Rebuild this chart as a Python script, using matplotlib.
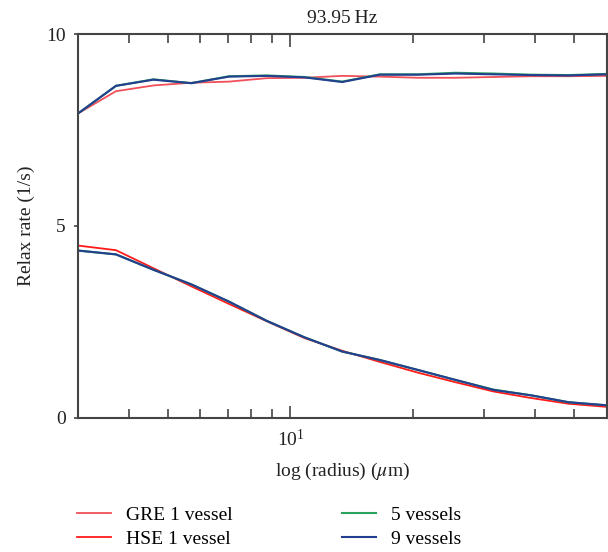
import numpy as np
import matplotlib
matplotlib.use("Agg")
import matplotlib.pyplot as plt
from matplotlib.ticker import LogLocator, NullFormatter, FixedLocator

plt.rcParams["font.family"] = ["Liberation Serif", "DejaVu Serif"]
plt.rcParams["mathtext.fontset"] = "stix"

# ── data (radius in um, relax rate in 1/s) ─────────────────────────────────
radius = [3.0, 3.72, 4.60, 5.70, 7.06, 8.74, 10.83, 13.41,
          16.6, 20.6, 25.5, 31.6, 39.1, 48.4, 60.0]

gre_1 = [7.93, 8.51, 8.66, 8.73, 8.76, 8.85, 8.86, 8.91,
         8.89, 8.86, 8.86, 8.88, 8.90, 8.90, 8.91]
hse_1 = [4.49, 4.37, 3.90, 3.43, 2.97, 2.52, 2.08, 1.75,
         1.46, 1.18, 0.93, 0.69, 0.52, 0.37, 0.29]

gre_5 = [7.93, 8.65, 8.82, 8.72, 8.90, 8.92, 8.88, 8.76,
         8.95, 8.95, 8.99, 8.97, 8.94, 8.93, 8.96]
hse_5 = [4.36, 4.26, 3.86, 3.48, 3.03, 2.53, 2.10, 1.73,
         1.51, 1.25, 0.99, 0.74, 0.59, 0.41, 0.33]

gre_9 = [7.93, 8.65, 8.81, 8.72, 8.89, 8.91, 8.87, 8.75,
         8.94, 8.94, 8.97, 8.95, 8.93, 8.92, 8.95]
hse_9 = [4.36, 4.26, 3.86, 3.48, 3.03, 2.53, 2.10, 1.73,
         1.51, 1.25, 0.99, 0.73, 0.59, 0.41, 0.33]

C_GRE = "#f0505a"
C_HSE = "#ff1a1a"
C_5 = "#2ca25f"
C_9 = "#233f8f"
AX_COL = "#444444"
TXT = "#222222"

fig = plt.figure(figsize=(6.08, 5.52), dpi=100)
ax = fig.add_axes([0.1283, 0.2428, 0.8694, 0.6956])

ax.plot(radius, gre_1, color=C_GRE, lw=1.3, label="GRE 1 vessel")
ax.plot(radius, hse_1, color=C_HSE, lw=1.3, label="HSE 1 vessel")
ax.plot(radius, gre_5, color=C_5, lw=1.5, label="5 vessels")
ax.plot(radius, hse_5, color=C_5, lw=1.5)
ax.plot(radius, gre_9, color=C_9, lw=1.5, label="9 vessels")
ax.plot(radius, hse_9, color=C_9, lw=1.5)

ax.set_xscale("log")
ax.set_xlim(3, 60)
ax.set_ylim(0, 10)
ax.set_yticks([0, 5, 10])
ax.xaxis.set_major_locator(FixedLocator([10]))
ax.xaxis.set_minor_locator(LogLocator(base=10, subs=np.arange(2, 10)))
ax.xaxis.set_minor_formatter(NullFormatter())

for s in ax.spines.values():
    s.set_color(AX_COL)
    s.set_linewidth(1.5)

ax.tick_params(axis="x", which="both", direction="in", top=True, bottom=True,
               color=AX_COL, width=1.2, labelsize=14, pad=8, labelcolor=TXT)
ax.tick_params(axis="x", which="major", length=9)
ax.tick_params(axis="x", which="minor", length=6.5)
ax.tick_params(axis="y", which="both", direction="out", length=3, color=AX_COL,
               width=1.2, labelsize=14, pad=6, labelcolor=TXT)

ax.set_title("93.95\u2009Hz", fontsize=14, pad=8, color=TXT)
ax.set_xlabel(r"log (radius) ($\mu$m)", fontsize=14, color=TXT)
ax.xaxis.set_label_coords(0.5, -0.113)
ax.set_ylabel("Relax rate (1/s)", fontsize=14, labelpad=8, color=TXT)

fig.legend(loc="center left", bbox_to_anchor=(0.126, 0.0453), ncol=2, frameon=False,
           fontsize=14, handlelength=1.75, handletextpad=0.8, columnspacing=5.6,
           labelspacing=0.34, borderaxespad=0, borderpad=0)

fig.savefig("out.png", dpi=100)
